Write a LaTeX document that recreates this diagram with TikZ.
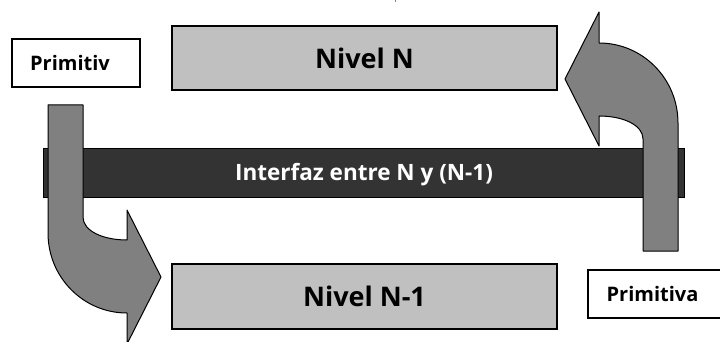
\documentclass[tikz,border=0pt]{standalone}
\usepackage{fontspec}
\setmainfont{Open Sans}
\definecolor{levelgray}{HTML}{C0C0C0}
\definecolor{arrowgray}{HTML}{808080}
\definecolor{bardark}{HTML}{333333}
\begin{document}
\begin{tikzpicture}[x=1pt,y=-1pt,
  level/.style={draw=black, line width=1.5pt, fill=levelgray, inner sep=0pt,
    font=\fontsize{27}{29}\selectfont\bfseries},
  primbox/.style={draw=black, line width=1.2pt, fill=white, inner sep=0pt},
  primtext/.style={font=\fontsize{20}{22}\selectfont\bfseries},
  bar/.style={draw=black, line width=1pt, fill=bardark, inner sep=0pt},
  bartext/.style={text=white, font=\fontsize{22.5}{24}\selectfont\bfseries},
  bentarrow/.style={draw=black, line width=1pt, fill=arrowgray, line join=round}]
\useasboundingbox (0,0) rectangle (720,342);
\clip (0,0) rectangle (720,342);

% stray mark at the top edge
\draw[gray, line width=0.8pt] (395,0) -- (395,2);

% the two levels
\node[level, minimum width=385pt, minimum height=64pt] (nivN) at (364.5,58) {Nivel N};
\node[level, minimum width=385pt, minimum height=65pt] (nivN1) at (364.5,296.5) {Nivel N-1};

% labels of the primitives
\node[primbox, minimum width=128pt, minimum height=48pt] (primL) at (76,63) {};
\node[primtext] (primLt) at (70,63) {Primitiv};
\node[primbox, minimum width=150pt, minimum height=48pt] (primR) at (663,294) {};
\node[primtext] (primRt) at (652.5,294) {Primitiva};

% interface bar
\node[bar, minimum width=641pt, minimum height=48pt] (iface) at (363.5,173) {};
\node[bartext] (ifacet) at (364,175) {Interfaz entre N y (N-1)};

% bent arrow going down from level N to level N-1
\def\bentpath{(48,105) -- (83,105) -- (83,217)
  .. controls (83,231) and (103,240) .. (127,240)
  -- (127,210) -- (161,277) -- (127,344) -- (127,313)
  .. controls (83,313) and (48,277) .. (48,233) -- cycle}
\draw[bentarrow] \bentpath;
% the same arrow turned half a turn, going up from level N-1 to level N
\begin{scope}[rotate around={180:(363,178)}]
\draw[bentarrow] \bentpath;
\end{scope}
\end{tikzpicture}
\end{document}
